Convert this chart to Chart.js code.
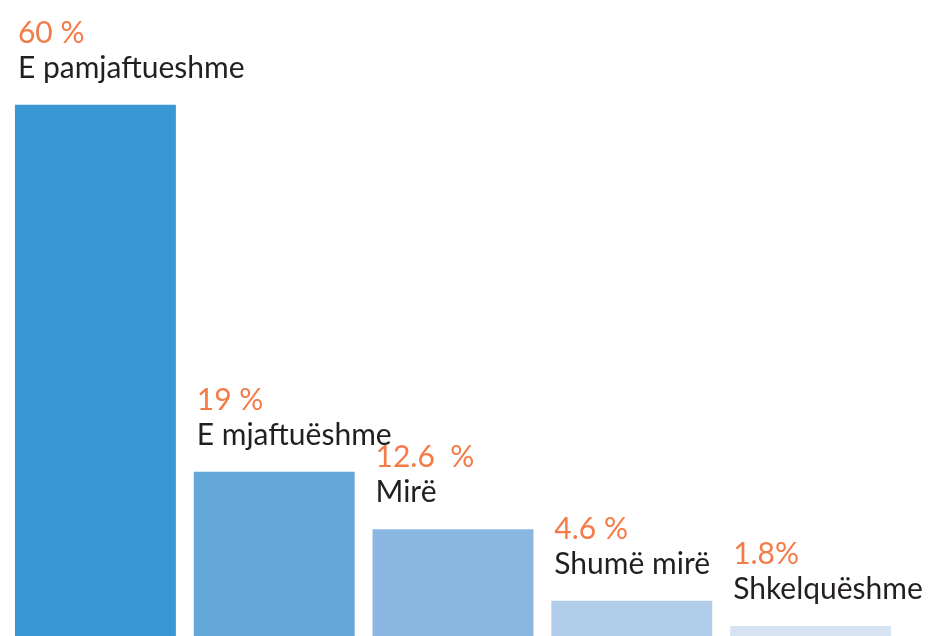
<!DOCTYPE html>
<html>
<head>
<meta charset="utf-8">
<script src="https://cdn.jsdelivr.net/npm/chart.js@4"></script>
<style>
  html, body { margin: 0; padding: 0; background: #ffffff; overflow: hidden; }
  #wrap { position: relative; width: 931px; height: 642px; }
</style>
</head>
<body>
<div id="wrap"><canvas id="gradesChart"></canvas></div>
<script>
// Grade categories and their share (%)
const categories = ["E pamjaftueshme", "E mjaftuëshme", "Mirë", "Shumë mirë", "Shkelquëshme"];
const shares = [60, 19, 12.6, 4.6, 1.8];
const shareLabels = ["60 %", "19 %", "12.6  %", "4.6 %", "1.8%"];
const barColors = ["#3997d3", "#64a7d9", "#8ab7e1", "#b1cdea", "#d5e3f3"];

// Draws the orange percentage and the grade name above each bar
const barLabels = {
    id: "barLabels",
    afterDatasetsDraw(chart) {
        const ctx = chart.ctx;
        const meta = chart.getDatasetMeta(0);
        ctx.save();
        ctx.textAlign = "left";
        ctx.textBaseline = "alphabetic";
        ctx.font = "30px Lato";
        meta.data.forEach((bar, i) => {
            const left = bar.x - bar.width / 2 + 3;
            const nameY = bar.y - 27;
            ctx.fillStyle = "#231f20";
            ctx.fillText(categories[i], left, nameY);
            ctx.fillStyle = "#f47b48";
            ctx.fillText(shareLabels[i], left, nameY - 35);
        });
        ctx.restore();
    }
};

new Chart(document.getElementById("gradesChart"), {
    type: "bar",
    data: {
        labels: categories,
        datasets: [{
            data: shares,
            backgroundColor: barColors,
            borderWidth: 0,
            categoryPercentage: 1,
            barPercentage: 0.9
        }]
    },
    options: {
        responsive: true,
        maintainAspectRatio: false,
        animation: false,
        layout: { padding: { left: 6, right: 31, top: 0, bottom: 0 } },
        plugins: {
            legend: { display: false },
            tooltip: { enabled: false }
        },
        scales: {
            x: { display: false },
            y: { display: false, min: 0, max: 71.7 }
        }
    },
    plugins: [barLabels]
});
</script>
</body>
</html>
